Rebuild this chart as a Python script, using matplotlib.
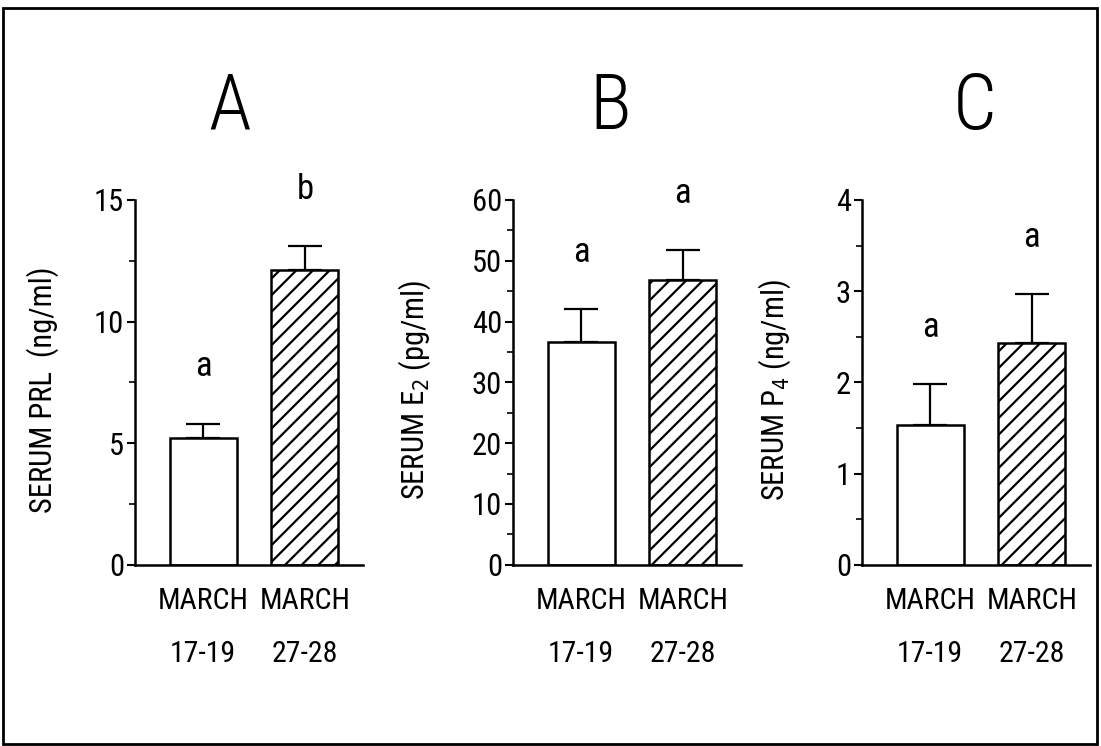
import numpy as np
import matplotlib
matplotlib.use('Agg')
import matplotlib.pyplot as plt
from matplotlib.patches import Rectangle

plt.rcParams['font.family'] = ['Roboto Condensed', 'DejaVu Sans']
plt.rcParams['font.stretch'] = 'condensed'
plt.rcParams['hatch.linewidth'] = 1.6

# data
groups = ['MARCH\n17-19', 'MARCH\n27-28']
panels = ['A', 'B', 'C']
ylabels = ['SERUM PRL  (ng/ml)', 'SERUM E$_2$ (pg/ml)', 'SERUM P$_4$ (ng/ml)']
prl = [5.2, 12.1]
prl_err = [0.6, 1.0]
e2 = [36.6, 46.9]
e2_err = [5.4, 4.8]
p4 = [1.53, 2.43]
p4_err = [0.45, 0.54]
letters = [['a', 'b'], ['a', 'a'], ['a', 'a']]
ymax = [15, 60, 4]
major = [5, 10, 1]

means = [prl, e2, p4]
errs = [prl_err, e2_err, p4_err]

fig = plt.figure(figsize=(11.01, 7.46), dpi=100)

# outer frame
fig.patches.append(Rectangle((3/1101, 2/746), 1094/1101, 736/746,
                             transform=fig.transFigure, fill=False,
                             lw=2, ec='black'))

lefts = [135/1101, 513/1101, 862/1101]
label_x = [-0.332, -0.352, -0.304]
title_x = [230, 610, 975]

x = np.arange(2)
for i in range(3):
    ax = fig.add_axes([lefts[i], 0.243, 0.207, 0.489])
    ax.bar(x, means[i], width=0.66, color='white', edgecolor='black',
           linewidth=1.8, hatch=['', '//'], zorder=2)
    ax.errorbar(x, means[i], yerr=[[0, 0], errs[i]], fmt='none',
                ecolor='black', elinewidth=1.6, capsize=12, capthick=1.6,
                zorder=1)
    for j in range(2):
        ax.annotate(letters[i][j], (x[j], means[i][j] + errs[i][j]),
                    xytext=(0, 34), textcoords='offset points',
                    ha='center', va='baseline', fontsize=25)
    ax.set_xlim(-0.67, 1.57)
    ax.set_ylim(0, ymax[i])
    ax.set_yticks(np.arange(0, ymax[i] + 0.01, major[i]))
    ax.set_yticks(np.arange(major[i] / 2, ymax[i], major[i]), minor=True)
    ax.set_xticks(x)
    ax.set_xticklabels(groups, linespacing=2.15, fontsize=21.5)
    ax.tick_params(axis='x', length=0, pad=16)
    ax.tick_params(axis='y', which='major', length=6, width=1.5,
                   labelsize=22, pad=2)
    ax.tick_params(axis='y', which='minor', length=4, width=1.2)
    for s in ['top', 'right']:
        ax.spines[s].set_visible(False)
    for s in ['left', 'bottom']:
        ax.spines[s].set_linewidth(1.8)
    ax.set_ylabel(ylabels[i], fontsize=22)
    ax.yaxis.set_label_coords(label_x[i], 0.48)
    fig.text(title_x[i] / 1101, 1 - 108 / 746, panels[i], fontsize=56,
             ha='center', va='center', fontweight='light')

fig.savefig('out.png', dpi=100)
